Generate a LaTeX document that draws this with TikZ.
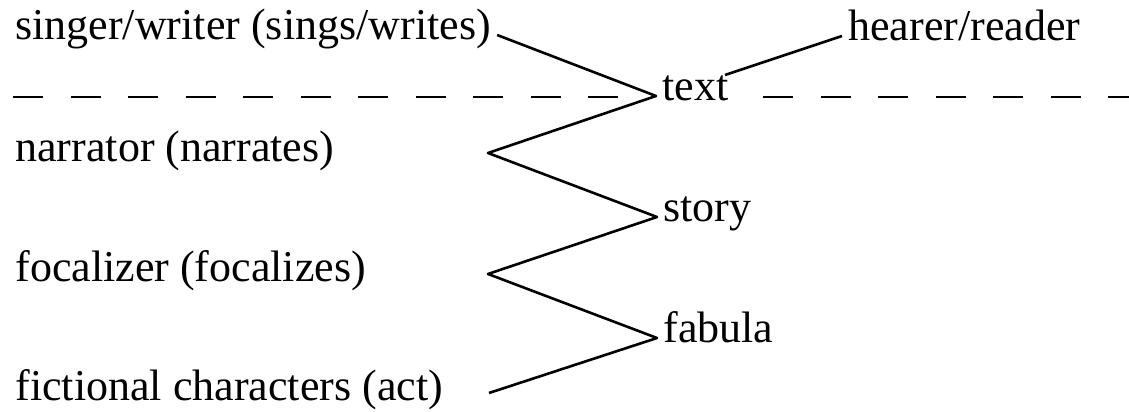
\documentclass[tikz,border=0pt]{standalone}
\usepackage{fontspec}
\setmainfont{Liberation Serif}
\tikzset{
  lbl/.style={inner xsep=3pt, inner ysep=0pt, text height=1ex, text depth=0pt,
    font=\fontsize{22}{26}\selectfont},
  link/.style={line width=1.3pt, line join=round},
  level/.style={line width=1.1pt, dash pattern=on 15pt off 13.75pt}
}
\begin{document}
\begin{tikzpicture}[x=0.5pt, y=-0.5pt]
    \useasboundingbox (0,0) rectangle (1129,412);

    % Participants on the left, levels on the right
    \node[lbl, anchor=west] (singer) at (9,35) {singer/writer (sings/writes)};
    \node[lbl, anchor=west] (hearer) at (842,36) {hearer/reader};
    \node[lbl, anchor=west] (text) at (656,96) {text};
    \node[lbl, anchor=west] (narrator) at (9,157) {narrator (narrates)};
    \node[lbl, anchor=west] (story) at (657,217) {story};
    \node[lbl, anchor=west] (focalizer) at (9,277) {focalizer (focalizes)};
    \node[lbl, anchor=west] (fabula) at (657,338) {fabula};
    \node[lbl, anchor=west] (fictional) at (9,396) {fictional characters (act)};

    % Turning points of the zigzag
    \coordinate (narr-v) at (488,153);
    \coordinate (foc-v) at (488,274);
    \coordinate (fict-v) at (489,393);
    \coordinate (text-ne) at (725,75);

    % Ends of the dashed boundary
    \coordinate (dash-l0) at (13,97);
    \coordinate (dash-l1) at (618,97);
    \coordinate (dash-r0) at (763,97);
    \coordinate (dash-r1) at (1129,97);

    % Zigzag
    \draw[link] (singer.east) -- (text.west) -- (narr-v) -- (story.west)
      -- (foc-v) -- (fabula.west) -- (fict-v);
    \draw[link] (text-ne) -- (hearer.west);

    % Dashed boundary
    \draw[level] (dash-l0) -- (dash-l1);
    \draw[level] (dash-r0) -- (dash-r1);
\end{tikzpicture}
\end{document}
